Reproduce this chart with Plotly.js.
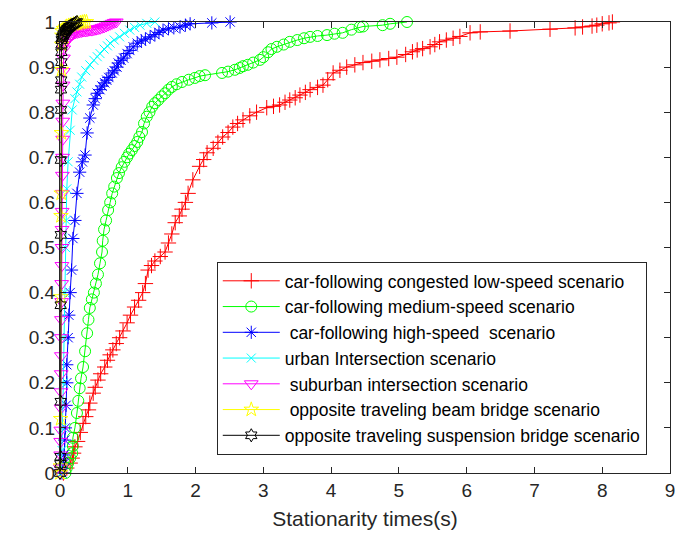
<!DOCTYPE html>
<html>
<head>
<meta charset="utf-8">
<script src="https://cdn.plot.ly/plotly-3.0.1.min.js"></script>
<style>html,body{margin:0;padding:0;background:#fff;}#chart{width:675px;height:534px;}</style>
</head>
<body>
<div id="chart"></div>
<script>
// ---------- data ----------
const seriesNames = [
  "car-following congested low-speed scenario",
  "car-following medium-speed scenario",
  " car-following high-speed  scenario",
  "urban Intersection scenario",
  " suburban intersection scenario",
  " opposite traveling beam bridge scenario",
  "opposite traveling suspension bridge scenario"
];

const redX = [0.05,0.1,0.15,0.18,0.2,0.22,0.26,0.3,0.34,0.38,0.42,0.44,0.49,0.52,0.56,0.6,0.66,0.7,0.74,0.78,0.83,0.88,0.93,0.99,1.04,1.1,1.16,1.22,1.26,1.3,1.35,1.4,1.48,1.55,1.6,1.65,1.7,1.76,1.8,1.85,1.89,1.96,2.06,2.12,2.17,2.26,2.33,2.4,2.48,2.55,2.62,2.7,2.8,2.9,3.05,3.15,3.24,3.32,3.39,3.47,3.54,3.62,3.69,3.8,3.88,3.95,4.03,4.13,4.23,4.35,4.47,4.6,4.72,4.85,4.97,5.1,5.2,5.27,5.35,5.46,5.53,5.6,5.7,5.8,5.9,6.05,6.2,6.64,7.23,7.6,7.71,7.85,7.92,8.0,8.1,8.15];
const redY = [0,0.011,0.022,0.033,0.044,0.058,0.07,0.09,0.11,0.125,0.14,0.155,0.177,0.19,0.206,0.22,0.235,0.25,0.262,0.273,0.287,0.3,0.315,0.333,0.35,0.368,0.383,0.4,0.42,0.45,0.46,0.47,0.48,0.49,0.51,0.53,0.555,0.57,0.585,0.6,0.62,0.65,0.68,0.695,0.71,0.72,0.733,0.745,0.755,0.767,0.775,0.783,0.792,0.8,0.81,0.813,0.816,0.822,0.827,0.832,0.838,0.844,0.85,0.855,0.86,0.872,0.887,0.893,0.9,0.905,0.91,0.913,0.916,0.919,0.922,0.928,0.934,0.938,0.941,0.945,0.95,0.956,0.96,0.964,0.968,0.976,0.978,0.98,0.984,0.987,0.989,0.991,0.993,0.996,0.998,1.0];

const greenX = [0.08,0.1,0.12,0.15,0.18,0.19,0.19,0.22,0.25,0.27,0.29,0.31,0.34,0.37,0.4,0.42,0.44,0.47,0.5,0.53,0.56,0.59,0.62,0.63,0.65,0.68,0.71,0.74,0.77,0.8,0.84,0.87,0.91,0.95,0.99,1.02,1.06,1.1,1.14,1.17,1.21,1.24,1.28,1.32,1.36,1.4,1.45,1.5,1.55,1.6,1.65,1.72,1.8,1.9,1.99,2.06,2.14,2.39,2.48,2.58,2.65,2.7,2.77,2.85,2.95,3.0,3.07,3.12,3.2,3.3,3.39,3.5,3.6,3.69,3.8,3.94,4.05,4.17,4.3,4.42,4.47,4.76,4.87,5.12];
const greenY = [0,0.011,0.022,0.033,0.044,0.06,0.078,0.1,0.133,0.16,0.188,0.21,0.235,0.27,0.31,0.34,0.366,0.385,0.4,0.42,0.44,0.465,0.49,0.515,0.54,0.56,0.583,0.6,0.62,0.635,0.654,0.665,0.678,0.69,0.7,0.708,0.716,0.725,0.734,0.745,0.756,0.775,0.79,0.8,0.812,0.82,0.827,0.835,0.842,0.85,0.856,0.862,0.867,0.872,0.876,0.88,0.882,0.887,0.89,0.894,0.898,0.902,0.905,0.91,0.916,0.922,0.933,0.94,0.945,0.95,0.956,0.96,0.964,0.967,0.969,0.971,0.974,0.976,0.983,0.989,0.99,0.993,0.996,1.0];

const blueX = [0.03,0.05,0.06,0.07,0.08,0.09,0.1,0.1,0.12,0.13,0.15,0.17,0.19,0.22,0.25,0.29,0.33,0.37,0.4,0.44,0.49,0.52,0.55,0.59,0.62,0.66,0.69,0.72,0.77,0.8,0.84,0.86,0.9,0.94,0.99,1.03,1.08,1.14,1.2,1.26,1.33,1.4,1.46,1.52,1.6,1.68,1.77,1.85,1.92,2.24,2.51];
const blueY = [0,0.02,0.04,0.073,0.1,0.15,0.2,0.24,0.3,0.35,0.4,0.45,0.52,0.56,0.62,0.667,0.69,0.705,0.754,0.787,0.816,0.83,0.842,0.85,0.858,0.865,0.871,0.877,0.887,0.892,0.9,0.909,0.915,0.92,0.93,0.937,0.945,0.953,0.958,0.962,0.967,0.972,0.977,0.982,0.985,0.987,0.989,0.993,0.996,0.998,1.0];

const cyanX = [0.02,0.03,0.04,0.05,0.06,0.07,0.08,0.09,0.1,0.12,0.15,0.18,0.22,0.25,0.29,0.32,0.38,0.44,0.5,0.55,0.59,0.65,0.7,0.74,0.8,0.88,0.95,1.03,1.1,1.18,1.28,1.4];
const cyanY = [0,0.05,0.1,0.2,0.3,0.4,0.5,0.56,0.63,0.69,0.76,0.805,0.83,0.845,0.862,0.878,0.892,0.905,0.915,0.923,0.93,0.94,0.947,0.953,0.96,0.967,0.975,0.982,0.988,0.993,0.997,1.0];

const magentaX = [0.0,0.005,0.01,0.01,0.012,0.015,0.015,0.018,0.02,0.02,0.022,0.025,0.025,0.028,0.03,0.03,0.032,0.035,0.035,0.038,0.04,0.04,0.042,0.045,0.048,0.05,0.055,0.06,0.08,0.1,0.12,0.14,0.16,0.18,0.2,0.23,0.26,0.29,0.32,0.35,0.38,0.41,0.44,0.47,0.5,0.53,0.56,0.59,0.62,0.65,0.68,0.71,0.74,0.77,0.8,0.83];
const magentaY = [0,0.011,0.04,0.07,0.095,0.144,0.18,0.22,0.26,0.3,0.34,0.38,0.42,0.46,0.5,0.54,0.58,0.62,0.66,0.7,0.74,0.78,0.82,0.86,0.89,0.92,0.94,0.95,0.955,0.96,0.964,0.967,0.97,0.972,0.974,0.976,0.977,0.978,0.979,0.98,0.98,0.981,0.982,0.982,0.983,0.984,0.985,0.986,0.988,0.989,0.991,0.993,0.995,0.997,0.999,1.0];

const yellowX = [0.0,0.005,0.01,0.012,0.015,0.018,0.02,0.022,0.025,0.028,0.03,0.05,0.08,0.1,0.13,0.16,0.2,0.23,0.26,0.3,0.33,0.36,0.39];
const yellowY = [0,0.015,0.12,0.39,0.57,0.62,0.754,0.894,0.95,0.97,0.98,0.985,0.988,0.99,0.992,0.993,0.995,0.996,0.997,0.998,0.999,1.0,1.0];

const blackX = [0.0,0.005,0.008,0.01,0.01,0.012,0.012,0.015,0.015,0.018,0.02,0.02,0.022,0.025,0.03,0.04,0.05,0.06,0.07,0.08,0.09,0.1,0.11,0.12,0.13,0.14,0.15,0.17,0.19,0.21,0.23,0.25];
const blackY = [0,0.02,0.036,0.158,0.372,0.528,0.694,0.805,0.85,0.871,0.911,0.933,0.95,0.96,0.965,0.968,0.971,0.974,0.977,0.979,0.981,0.983,0.985,0.986,0.988,0.989,0.99,0.992,0.994,0.996,0.998,1.0];

const xTicks = [0,1,2,3,4,5,6,7,8,9];
const yTicks = [0,0.1,0.2,0.3,0.4,0.5,0.6,0.7,0.8,0.9,1];
const yTickText = ["0","0.1","0.2","0.3","0.4","0.5","0.6","0.7","0.8","0.9","1"];

// ---------- styles ----------
const colors = ["#ff0000","#00ff00","#0000ff","#00ffff","#ff00ff","#ffff00","#000000"];
const symbols = ["cross-thin-open","circle-open","asterisk-open","x-thin-open","triangle-down-open","star-open","hexagram-open"];
const sizes = [11,11,11,9,12,11,10];
const xs = [redX,greenX,blueX,cyanX,magentaX,yellowX,blackX];
const ys = [redY,greenY,blueY,cyanY,magentaY,yellowY,blackY];

const traces = xs.map((x,i)=>({
  type:"scatter", mode:"lines+markers", x:x, y:ys[i], name:seriesNames[i],
  cliponaxis:false,
  line:{color:colors[i], width:1},
  marker:{symbol:symbols[i], size:sizes[i], color:colors[i], line:{color:colors[i], width:1}}
}));

const axisColor = "#262626";
const font = "Liberation Sans, Arial, Helvetica, sans-serif";
const layout = {
  width:675, height:534,
  margin:{l:60, r:5, t:22, b:61},
  paper_bgcolor:"#ffffff", plot_bgcolor:"#ffffff",
  font:{family:font, color:axisColor},
  showlegend:true,
  xaxis:{
    range:[0,9], tickvals:xTicks, ticks:"inside", ticklen:6, tickcolor:axisColor,
    showline:true, mirror:"ticks", linecolor:axisColor, linewidth:1,
    showgrid:false, zeroline:false, ticklabeloverflow:"allow",
    tickfont:{size:19, family:font, color:axisColor},
    title:{text:"Stationarity times(s)", font:{size:21, family:font, color:axisColor}, standoff:11}
  },
  yaxis:{
    range:[0,1], tickvals:yTicks, ticktext:yTickText, ticks:"inside", ticklen:6, tickcolor:axisColor,
    showline:true, mirror:"ticks", linecolor:axisColor, linewidth:1,
    showgrid:false, zeroline:false, ticklabeloverflow:"allow",
    tickfont:{size:19, family:font, color:axisColor}
  },
  legend:{
    x:0.257, y:0.468, xanchor:"left", yanchor:"top",
    bgcolor:"#ffffff", bordercolor:axisColor, borderwidth:1,
    font:{size:17.5, family:font, color:"#000000"},
    itemwidth:57, tracegroupgap:0
  }
};

Plotly.newPlot("chart", traces, layout, {staticPlot:true, displayModeBar:false});
</script>
</body>
</html>
